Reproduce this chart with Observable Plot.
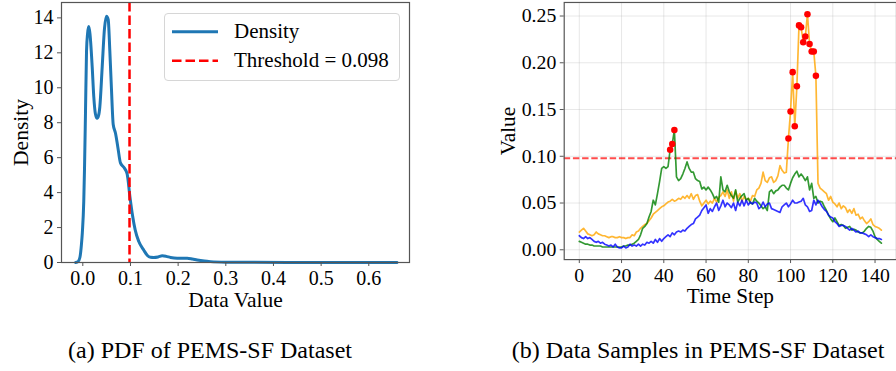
<!DOCTYPE html>
<html><head><meta charset="utf-8">
<script src="https://cdn.jsdelivr.net/npm/d3@7"></script>
<script src="https://cdn.jsdelivr.net/npm/@observablehq/plot@0.6"></script>
<style>
body{margin:0;background:#fff;}
#fig{position:relative;width:896px;height:371px;overflow:hidden;background:#fff;font-family:"Liberation Serif","Times New Roman",serif;color:#000;}
#left,#right{position:absolute;top:0;}
#left{left:0}
#right{left:448px}
#fig svg, #fig svg text{font-family:"Liberation Serif","Times New Roman",serif !important;}
.cap{position:absolute;font-size:24px;line-height:24px;white-space:nowrap;transform:translateX(-50%);top:338px;}
#legend{position:absolute;left:164px;top:13px;width:234px;height:66px;border:1px solid #d6d6d6;border-radius:4px;background:rgba(255,255,255,0.8);}
svg [aria-label$="axis label"]{font-size:21.5px}
</style></head>
<body>
<div id="fig">
  <div id="left"></div>
  <div id="right"></div>
  <div id="legend"></div>
  <div class="cap" style="left:210px">(a) PDF of PEMS-SF Dataset</div>
  <div class="cap" style="left:698px">(b) Data Samples in PEMS-SF Dataset</div>
</div>
<script>
// ---- Panel (a): KDE of data values ----
const kdeX = [-0.015,-0.010,-0.006,-0.003,-0.001,0.002,0.0036,0.0057,0.0078,0.010,0.0125,0.015,0.0197,0.023,0.0265,0.030,0.033,0.0357,0.0407,0.0455,0.0497,0.0533,0.0567,0.060,0.0638,0.0686,0.0735,0.079,0.086,0.093,0.0987,0.104,0.110,0.1175,0.128,0.135,0.142,0.149,0.158,0.1666,0.175,0.184,0.198,0.219,0.230,0.240,0.255,0.268,0.300,0.350,0.450,0.550,0.659];
const kdeY = [0,0.05,0.3,1.0,1.7,3.5,5.4,8.7,12.1,13.1,13.5,13.1,11.2,9.5,8.5,8.25,8.4,8.9,11.2,13.4,14.1,13.9,12.1,10.0,7.9,7.4,6.6,5.7,5.45,5.07,3.8,2.75,1.85,1.2,0.7,0.42,0.3,0.29,0.32,0.38,0.35,0.29,0.25,0.25,0.2,0.14,0.08,0.05,0.02,0.01,0.005,0.003,0.002];
const threshold = 0.098;
const leftXTicks = [0,0.1,0.2,0.3,0.4,0.5,0.6];
const leftYTicks = [0,2,4,6,8,10,12,14];

// ---- Panel (b): three data samples, 144 time steps ----
const orange = [.019,.021,.023,.020,.017,.016,.015,.016,.019,.017,
.016,.015,.015,.014,.013,.014,.014,.013,.013,.014,
.013,.013,.012,.013,.013,.016,.015,.019,.020,.023,
.025,.027,.028,.031,.034,.038,.040,.042,.044,.046,
.047,.049,.051,.052,.054,.052,.053,.055,.054,.057,
.055,.058,.055,.060,.054,.058,.059,.052,.047,.050,
.053,.049,.052,.050,.055,.051,.056,.058,.062,.057,
.064,.055,.062,.052,.063,.055,.060,.052,.057,.053,
.055,.052,.058,.057,.064,.066,.071,.083,.074,.072,
.077,.078,.072,.074,.079,.090,.085,.082,.083,.119,
.148,.190,.132,.175,.240,.238,.222,.228,.252,.220,
.212,.212,.186,.071,.066,.064,.062,.060,.053,.057,
.051,.049,.046,.050,.044,.047,.045,.040,.043,.039,
.044,.037,.038,.033,.035,.031,.028,.030,.033,.027,
.025,.024,.023,.021];
const green = [.009,.008,.007,.006,.006,.005,.005,.004,.004,.004,
.004,.003,.003,.003,.003,.003,.003,.003,.003,.003,
.003,.004,.004,.005,.005,.006,.007,.009,.011,.016,
.023,.025,.028,.035,.041,.053,.048,.060,.073,.087,
.089,.087,.089,.107,.113,.128,.078,.074,.076,.081,
.087,.094,.087,.083,.083,.076,.074,.073,.065,.067,
.064,.067,.064,.060,.055,.057,.051,.078,.064,.062,
.069,.062,.058,.055,.064,.051,.055,.058,.060,.053,
.055,.050,.049,.055,.052,.050,.047,.044,.046,.042,
.062,.064,.060,.063,.064,.067,.069,.069,.066,.064,
.071,.077,.081,.084,.078,.081,.078,.074,.078,.064,
.071,.055,.057,.050,.052,.051,.046,.042,.037,.033,
.030,.034,.030,.026,.027,.026,.023,.024,.025,.021,
.022,.021,.019,.018,.018,.020,.023,.025,.024,.020,
.014,.011,.009,.007];
const blue = [.015,.013,.012,.014,.012,.013,.011,.009,.008,.009,
.007,.008,.006,.005,.004,.005,.003,.006,.003,.002,
.002,.004,.002,.003,.006,.004,.005,.004,.006,.004,
.006,.005,.008,.007,.009,.007,.011,.008,.012,.009,
.012,.014,.016,.014,.018,.016,.019,.020,.019,.021,
.020,.023,.025,.027,.028,.033,.035,.037,.042,.045,
.048,.039,.044,.041,.046,.050,.042,.047,.053,.046,
.050,.048,.045,.050,.042,.051,.047,.053,.047,.053,
.048,.051,.049,.051,.050,.044,.046,.051,.046,.049,
.050,.044,.043,.042,.041,.040,.046,.048,.050,.046,
.049,.053,.050,.050,.051,.052,.055,.048,.046,.041,
.042,.053,.048,.053,.050,.046,.043,.041,.037,.035,
.034,.030,.028,.025,.026,.026,.025,.023,.021,.023,
.021,.019,.020,.018,.018,.017,.016,.014,.016,.014,
.013,.012,.012,.011];
const rightXTicks = [0,20,40,60,80,100,120,140];
const rightYTicks = [0,0.05,0.10,0.15,0.20,0.25];

const baseStyle = {fontFamily:"'Liberation Serif', serif", fontSize:"20px", color:"#000", background:"transparent", overflow:"visible"};
const axisCol = "#555";

// Left chart
const kde = kdeX.map((x,i)=>({x, y:kdeY[i]}));
const left = Plot.plot({
  width:448, height:320, marginLeft:61, marginRight:39, marginTop:2, marginBottom:58,
  style: baseStyle,
  x:{domain:[-0.0447,0.6854]},
  y:{domain:[0,14.88]},
  marks:[
    Plot.line(kde,{x:"x",y:"y",stroke:"#1f77b4",strokeWidth:3,curve:"monotone-x"}),
    Plot.ruleX([threshold],{stroke:"red",strokeWidth:2.5,strokeDasharray:"9.5,4"}),
    Plot.frame({stroke:axisCol, strokeWidth:1.2}),
    Plot.axisX({ticks:leftXTicks, tickFormat:d3.format(".1f"), tickSize:4, tickPadding:4, stroke:axisCol, label:"Data Value", labelAnchor:"center", labelOffset:44, labelArrow:"none"}),
    Plot.axisY({ticks:leftYTicks, tickFormat:d3.format("d"), tickSize:4, tickPadding:4, stroke:axisCol, label:"Density", labelAnchor:"center", labelOffset:49, labelArrow:"none"})
  ]
});
document.getElementById("left").appendChild(left);

// Right chart
const series = [
  {name:"orange", values:orange, color:"#FFA500"},
  {name:"green", values:green, color:"#008000"},
  {name:"blue", values:blue, color:"#0000FF"}
];
const rows = [];
series.forEach(s => s.values.forEach((v,t) => rows.push({t, v, s:s.name})));
const exceed = rows.filter(d => d.v > threshold);
const right = Plot.plot({
  width:453, height:320, marginLeft:117, marginRight:0, marginTop:2, marginBottom:58,
  style: baseStyle,
  x:{domain:[-7.15,150.15]},
  y:{domain:[-0.0105,0.2645]},
  marks:[
    Plot.gridX(rightXTicks,{stroke:"#b0b0b0", strokeOpacity:0.3, strokeWidth:1}),
    Plot.gridY(rightYTicks,{stroke:"#b0b0b0", strokeOpacity:0.3, strokeWidth:1}),
    Plot.ruleY([threshold],{stroke:"red", strokeOpacity:0.7, strokeWidth:2, strokeDasharray:"6.5,2.8"}),
    ...series.map(s => Plot.line(rows.filter(d=>d.s===s.name),{x:"t",y:"v",stroke:s.color,strokeOpacity:0.8,strokeWidth:1.7})),
    Plot.dot(exceed,{x:"t",y:"v",fill:"red",r:3.3}),
    Plot.frame({stroke:axisCol, strokeWidth:1.2}),
    Plot.axisX({ticks:rightXTicks, tickFormat:d3.format("d"), tickSize:4, tickPadding:4, stroke:axisCol, label:"Time Step", labelAnchor:"center", labelOffset:44, labelArrow:"none"}),
    Plot.axisY({ticks:rightYTicks, tickFormat:d3.format(".2f"), tickSize:4, tickPadding:4, stroke:axisCol, label:"Value", labelAnchor:"center", labelOffset:65, labelArrow:"none"})
  ]
});
document.getElementById("right").appendChild(right);

// Legend for panel (a)
const legendItems = [
  {label:"Density", color:"#1f77b4", width:3, dash:null},
  {label:"Threshold = " + threshold, color:"red", width:2.5, dash:"9.5,4"}
];
const ls = d3.select("#legend").append("svg").attr("width",234).attr("height",66)
  .style("font-size","21px").style("position","absolute").style("left","0").style("top","0");
legendItems.forEach((it,i) => {
  const y = 17.7 + i*29;
  ls.append("line").attr("x1",7).attr("x2",53).attr("y1",y).attr("y2",y)
    .attr("stroke",it.color).attr("stroke-width",it.width).attr("stroke-dasharray",it.dash);
  ls.append("text").attr("x",69).attr("y",y+6.5).text(it.label);
});
</script>
</body></html>
